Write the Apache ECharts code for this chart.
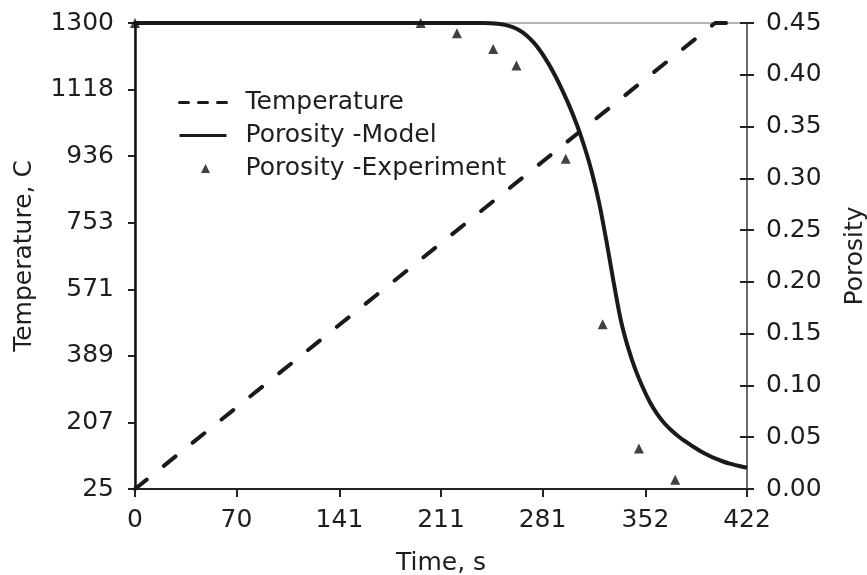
<!DOCTYPE html>
<html>
<head>
<meta charset="utf-8">
<script src="https://cdn.jsdelivr.net/npm/echarts@6/dist/echarts.min.js"></script>
<style>
  html, body { margin: 0; padding: 0; background: #ffffff; }
  #chart { width: 867px; height: 575px; }
</style>
</head>
<body>
<div id="chart"></div>
<script>
// ---- data ----
const timeTicks = [0, 70, 141, 211, 281, 352, 422];
const tempTicks = [25, 207, 389, 571, 753, 936, 1118, 1300];

const tempTime = [0, 400, 422];
const tempValue = [25, 1300, 1300];

const modelTime = [0, 200, 240, 245, 250, 255, 260, 265, 270, 275, 280, 285, 290, 295, 300, 305, 310, 315, 320, 325, 330, 335, 340, 345, 350, 355, 360, 365, 370, 375, 380, 385, 390, 395, 400, 405, 410, 416, 422];
const modelPorosity = [0.45, 0.45, 0.45, 0.4498, 0.4493, 0.4482, 0.4462, 0.4430, 0.4380, 0.4310, 0.4220, 0.4110, 0.3983, 0.3840, 0.3683, 0.3505, 0.3300, 0.3060, 0.2766, 0.2400, 0.2000, 0.1630, 0.1365, 0.1155, 0.0985, 0.0840, 0.0725, 0.0635, 0.0565, 0.0505, 0.0455, 0.0408, 0.0365, 0.0328, 0.0295, 0.0268, 0.0245, 0.0224, 0.0205];

const expTime = [0, 197, 222, 247, 263, 297, 322.5, 347.5, 372.5];
const expPorosity = [0.45, 0.45, 0.44, 0.425, 0.409, 0.319, 0.159, 0.039, 0.009];

// ---- build ----
const zip = (a, b) => a.map((v, i) => [v, b[i]]);
const FONT = 'DejaVu Sans';
const FS = 25;
const TXT = '#1e1e1e';

const chart = echarts.init(document.getElementById('chart'), null, { renderer: 'canvas' });
chart.setOption({
  backgroundColor: '#ffffff',
  animation: false,
  textStyle: { fontFamily: FONT },
  grid: { left: 135, right: 120, top: 23, bottom: 86, show: true, borderColor: '#6a6a6a', borderWidth: 1, containLabel: false, outerBoundsMode: 'none' },
  legend: {
    orient: 'vertical',
    left: 178,
    top: 90,
    padding: 0,
    itemWidth: 47,
    itemHeight: 9,
    itemGap: 8,
    textStyle: { fontFamily: FONT, fontSize: FS, color: TXT, padding: [0, 0, 0, 14] },
    data: [
      { name: 'Temperature', lineStyle: { type: [9, 10], width: 3, color: '#1a1a1a' }, itemStyle: { color: 'rgba(0,0,0,0)', borderWidth: 0 } },
      { name: 'Porosity -Model', lineStyle: { width: 3, color: '#1a1a1a' }, itemStyle: { color: 'rgba(0,0,0,0)', borderWidth: 0 } },
      { name: 'Porosity -Experiment', icon: 'path://M0,4.5L0,4.5M47,4.5L47,4.5M26,0L30.5,9L21.5,9Z', itemStyle: { color: '#111', borderWidth: 0 } }
    ]
  },
  xAxis: {
    type: 'value', min: 0, max: 422,
    name: 'Time, s', nameLocation: 'middle', nameGap: 62,
    nameTextStyle: { fontFamily: FONT, fontSize: FS, color: TXT },
    axisLine: { show: true, lineStyle: { color: '#222', width: 2 } },
    axisTick: { show: true, inside: false, length: 8, lineStyle: { color: '#222', width: 2 }, customValues: timeTicks },
    axisLabel: { fontFamily: FONT, fontSize: FS, color: TXT, margin: 19, customValues: timeTicks, formatter: v => String(v) },
    splitLine: { show: false }
  },
  yAxis: [
    {
      type: 'value', position: 'left', min: 25, max: 1300,
      name: 'Temperature, C', nameLocation: 'middle', nameGap: 98, nameRotate: 90,
      nameTextStyle: { fontFamily: FONT, fontSize: FS, color: TXT },
      axisLine: { show: true, lineStyle: { color: '#111', width: 2.5 } },
      axisTick: { show: true, inside: false, length: 7, lineStyle: { color: '#222', width: 2 }, customValues: tempTicks },
      axisLabel: { fontFamily: FONT, fontSize: FS, color: TXT, margin: 21, customValues: tempTicks, formatter: v => String(v) },
      splitLine: { show: false }
    },
    {
      type: 'value', position: 'right', min: 0, max: 0.45, interval: 0.05,
      name: 'Porosity', nameLocation: 'middle', nameGap: 96, nameRotate: 90,
      nameTextStyle: { fontFamily: FONT, fontSize: FS, color: TXT },
      axisLine: { show: true, lineStyle: { color: '#555', width: 1.5 } },
      axisTick: { show: true, inside: false, length: 7, lineStyle: { color: '#222', width: 2 } },
      axisLabel: { fontFamily: FONT, fontSize: FS, color: TXT, margin: 19, formatter: v => v.toFixed(2) },
      splitLine: { show: false }
    },
    {
      type: 'value', position: 'right', min: 0, max: 0.45, interval: 0.05,
      axisLine: { show: false },
      axisTick: { show: true, inside: true, length: 7, lineStyle: { color: '#222', width: 2 } },
      axisLabel: { show: false },
      splitLine: { show: false }
    }
  ],
  series: [
    {
      name: 'Temperature', type: 'line', yAxisIndex: 0, symbol: 'none', z: 3,
      data: zip(tempTime, tempValue),
      lineStyle: { color: '#1a1a1a', width: 4, type: [15, 22], cap: 'round' },
      itemStyle: { color: '#1a1a1a' }
    },
    {
      name: 'Porosity -Model', type: 'line', yAxisIndex: 1, symbol: 'none', smooth: 0.25, z: 4,
      data: zip(modelTime, modelPorosity),
      lineStyle: { color: '#1a1a1a', width: 4 },
      itemStyle: { color: '#1a1a1a' }
    },
    {
      name: 'Porosity -Experiment', type: 'scatter', yAxisIndex: 1, symbol: 'triangle', symbolSize: 10, z: 5,
      data: zip(expTime, expPorosity),
      itemStyle: { color: '#111' }
    }
  ]
});
</script>
</body>
</html>
